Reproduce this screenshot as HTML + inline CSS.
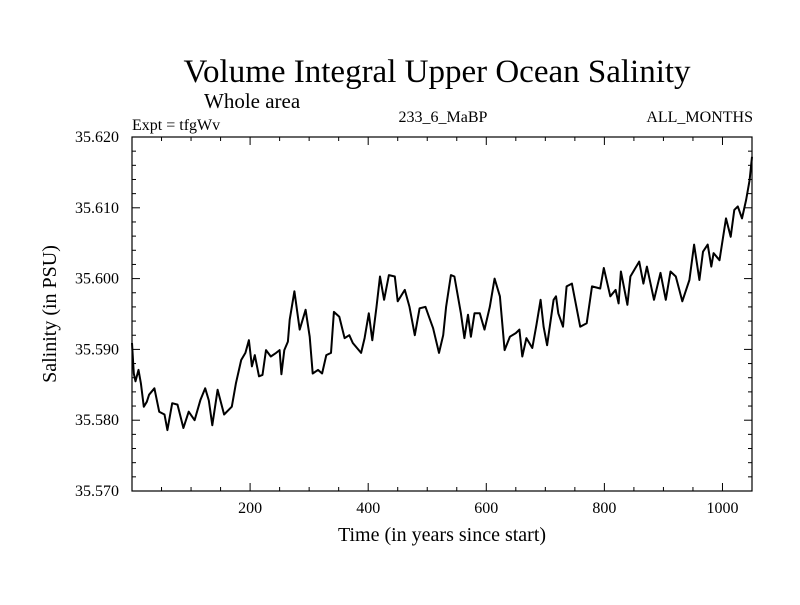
<!DOCTYPE html>
<html><head><meta charset="utf-8"><style>
body{margin:0;background:#fff;}
svg text{font-family:"Liberation Serif",serif;fill:#000;}
</style></head><body>
<svg id="chart" width="800" height="600">
<text x="437" y="82" font-size="33" text-anchor="middle">Volume Integral Upper Ocean Salinity</text>
<text x="204" y="108" font-size="21">Whole area</text>
<text x="132" y="130" font-size="16">Expt = tfgWv</text>
<text x="443" y="122" font-size="16" text-anchor="middle">233_6_MaBP</text>
<text x="753" y="122" font-size="16" text-anchor="end">ALL_MONTHS</text>
<text x="442" y="541" font-size="20" text-anchor="middle">Time (in years since start)</text>
<text transform="translate(56,314) rotate(-90)" font-size="20" text-anchor="middle">Salinity (in PSU)</text>
<g id="axes"></g>
<path id="line" fill="none" stroke="#000" stroke-width="2" stroke-linejoin="round"></path>
<rect x="132" y="137" width="620" height="354" fill="none" stroke="#000" stroke-width="1.2"></rect>
</svg>
<script>
const years=[0,3,6,11,15,20,25,29,38,46,55,60,68,77,87,96,106,116,124,130,136,145,156,169,176,185,192,198,203,208,215,221,227,235,244,250,253,258,264,267,275,284,294,301,306,315,322,329,337,342,351,360,368,374,388,394,401,407,414,420,427,435,445,450,462,470,479,487,497,503,510,520,527,532,540,546,557,563,569,574,580,589,597,606,614,623,631,640,650,656,661,668,678,685,692,697,703,714,718,722,730,736,745,759,770,779,793,799,810,819,824,828,839,844,859,866,872,884,895,904,912,921,932,944,952,961,967,975,981,985,995,1006,1014,1020,1026,1033,1040,1046,1050];
const salinity=[35.5909,35.5866,35.5855,35.5871,35.5852,35.5819,35.5826,35.5836,35.5845,35.5812,35.5808,35.5786,35.5824,35.5822,35.5789,35.5812,35.5800,35.5829,35.5845,35.5828,35.5793,35.5843,35.5808,35.5819,35.5852,35.5885,35.5895,35.5913,35.5876,35.5892,35.5862,35.5864,35.5899,35.5890,35.5895,35.5899,35.5865,35.5899,35.5911,35.5942,35.5982,35.5928,35.5956,35.5918,35.5866,35.5871,35.5866,35.5892,35.5895,35.5953,35.5946,35.5916,35.5920,35.5909,35.5895,35.5916,35.5951,35.5913,35.5960,35.6003,35.5970,35.6005,35.6003,35.5968,35.5984,35.5960,35.5920,35.5958,35.5960,35.5946,35.5930,35.5895,35.5920,35.5960,35.6005,35.6003,35.5951,35.5916,35.5949,35.5918,35.5951,35.5951,35.5928,35.5960,35.6000,35.5975,35.5899,35.5918,35.5923,35.5928,35.5890,35.5916,35.5902,35.5935,35.5970,35.5932,35.5906,35.5970,35.5975,35.5951,35.5932,35.5989,35.5993,35.5932,35.5937,35.5989,35.5986,35.6015,35.5975,35.5984,35.5965,35.6010,35.5963,35.6003,35.6024,35.5993,35.6017,35.5970,35.6008,35.5970,35.6010,35.6003,35.5968,35.5998,35.6048,35.5998,35.6038,35.6048,35.6017,35.6036,35.6026,35.6085,35.6059,35.6097,35.6102,35.6085,35.6111,35.6139,35.6172];
const xTicks=[200,400,600,800,1000];
const yTicks=[35.570,35.580,35.590,35.600,35.610,35.620];
const X0=132,X1=752,Y0=491,Y1=137,XMIN=0,XMAX=1050,YMIN=35.570,YMAX=35.620;
const xs=v=>X0+(v-XMIN)/(XMAX-XMIN)*(X1-X0);
const ys=v=>Y0-(v-YMIN)/(YMAX-YMIN)*(Y0-Y1);
const NS="http://www.w3.org/2000/svg";
const axes=document.getElementById('axes');
function ln(x1,y1,x2,y2){const l=document.createElementNS(NS,'line');l.setAttribute('x1',x1);l.setAttribute('y1',y1);l.setAttribute('x2',x2);l.setAttribute('y2',y2);l.setAttribute('stroke','#000');l.setAttribute('stroke-width','1');axes.appendChild(l);return l;}
for(let v=50;v<XMAX;v+=50){const x=xs(v);const major=v%200===0;const L=major?8:4;
const a=ln(x,Y0,x,Y0-L);


const b=ln(x,Y1,x,Y1+L);

}
for(let i=0;i<=25;i++){const v=YMIN+i*0.002;const y=ys(v);const L=i%5===0?8:4;
const a=ln(X0,y,X0+L,y);


const b=ln(X1,y,X1-L,y);

}
xTicks.forEach(v=>{const t=document.createElementNS(NS,'text');t.setAttribute('x',xs(v));t.setAttribute('y',513);t.setAttribute('font-size','16');t.setAttribute('text-anchor','middle');t.textContent=v;


axes.appendChild(t);});
yTicks.forEach(v=>{const t=document.createElementNS(NS,'text');t.setAttribute('x',119);t.setAttribute('y',ys(v)+5);t.setAttribute('font-size','16');t.setAttribute('text-anchor','end');t.textContent=v.toFixed(3);


axes.appendChild(t);});
document.getElementById('line').setAttribute('d',years.map((y,i)=>(i?'L':'M')+xs(y).toFixed(1)+','+ys(salinity[i]).toFixed(1)).join(''));
</script>
</body></html>
